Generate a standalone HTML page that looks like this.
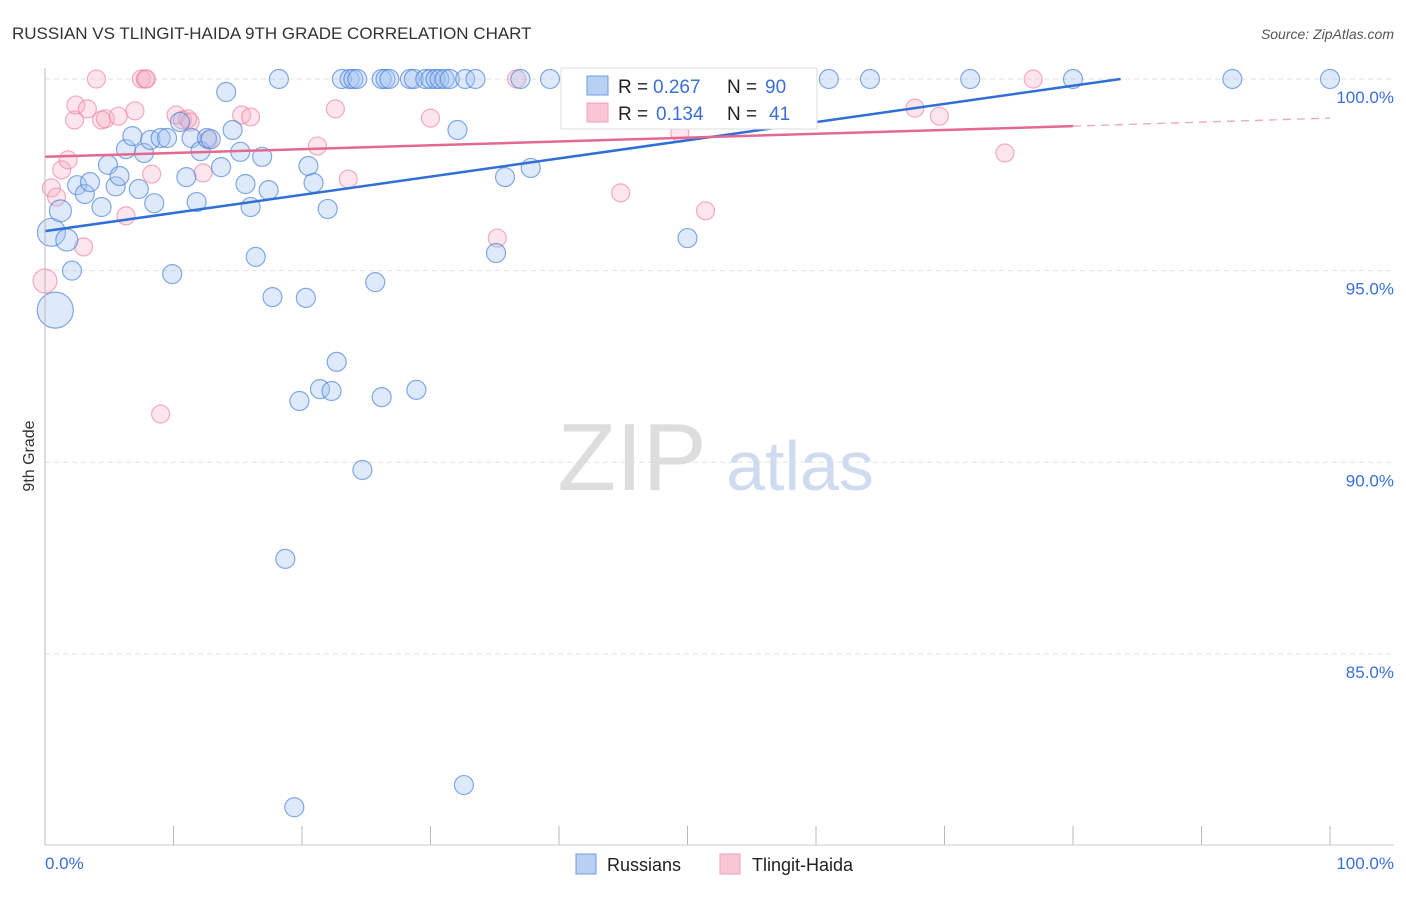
<!DOCTYPE html>
<html><head><meta charset="utf-8"><style>
body{margin:0;background:#fff;font-family:"Liberation Sans",sans-serif;}
svg text{font-family:"Liberation Sans",sans-serif;}
</style></head><body>
<svg width="1406" height="892">
<text x="12" y="39" font-size="17" fill="#333">RUSSIAN VS TLINGIT-HAIDA 9TH GRADE CORRELATION CHART</text>
<text x="1394" y="39" font-size="14" fill="#555" font-style="italic" text-anchor="end">Source: ZipAtlas.com</text>
<g id="grid"></g>
<g><text x="632" y="490" font-size="96" fill="#ddd" font-family="Liberation Serif" text-anchor="middle">ZIP</text><text x="800" y="490" font-size="70" fill="#cfdcf0" text-anchor="middle">atlas</text></g>
<g id="pts"></g>
<g id="lines"></g>
<line x1="45" y1="68" x2="45" y2="845" stroke="#bbb"/>
<text transform="translate(34,456) rotate(-90)" font-size="16" fill="#333" text-anchor="middle">9th Grade</text>
<text x="45" y="869" font-size="17" fill="#3a6fd8">0.0%</text>
<text x="1394" y="869" font-size="17" fill="#3a6fd8" text-anchor="end">100.0%</text>
<g>
<rect x="561" y="68" width="256" height="61" fill="#fff" stroke="#ddd"/>
<rect x="587" y="76" width="21" height="19" fill="#b8d0f2" stroke="#6f9be0"/>
<rect x="587" y="103" width="21" height="19" fill="#f9c6d4" stroke="#f0a0b8"/>
<text x="618" y="93" font-size="19" fill="#222">R =</text>
<text x="653" y="93" font-size="19" fill="#3a6fd8">0.267</text>
<text x="727" y="93" font-size="19" fill="#222">N =</text>
<text x="765" y="93" font-size="19" fill="#3a6fd8">90</text>
<text x="618" y="120" font-size="19" fill="#222">R =</text>
<text x="656" y="120" font-size="19" fill="#3a6fd8">0.134</text>
<text x="727" y="120" font-size="19" fill="#222">N =</text>
<text x="769" y="120" font-size="19" fill="#3a6fd8">41</text>
</g>
<g>
<rect x="576" y="854" width="20" height="20" fill="#b8d0f2" stroke="#6f9be0"/>
<text x="607" y="871" font-size="18" fill="#222">Russians</text>
<rect x="720" y="854" width="20" height="20" fill="#f9c6d4" stroke="#f0a0b8"/>
<text x="752" y="871" font-size="18" fill="#222">Tlingit-Haida</text>
</g>
</svg>
<script>
const yTicks=[100,95,90,85];
const yTickLabels=["100.0%","95.0%","90.0%","85.0%"];
const xTicks=[0,10,20,30,40,50,60,70,80,90,100];
const rusX=[0.8,0.5,1.2,1.7,2.1,2.5,3.1,3.5,4.4,4.9,5.5,5.8,6.3,6.8,7.3,7.7,8.2,8.5,9.0,9.5,9.9,10.5,11.0,11.4,11.8,12.1,12.6,12.9,13.7,14.1,14.6,15.2,15.6,16.0,16.4,16.9,17.4,17.7,18.7,19.4,19.8,20.3,20.5,20.9,21.4,22.0,22.3,22.7,24.7,25.7,26.2,28.9,32.1,32.6,35.1,35.8,37.8,50.0,18.2,23.1,23.7,24.0,24.3,26.2,26.5,26.8,28.4,28.7,29.6,30.0,30.4,30.7,31.1,31.5,32.7,33.5,37.0,39.3,43.9,47.1,50.7,52.4,59.3,61.0,64.2,72.0,80.0,92.4,100];
const rusY=[93.97,96.0,96.56,95.8,95.0,97.23,97.0,97.31,96.66,97.76,97.2,97.47,98.17,98.51,97.13,98.07,98.41,96.76,98.46,98.46,94.91,98.88,97.44,98.46,96.79,98.12,98.46,98.43,97.7,99.66,98.67,98.1,97.26,96.66,95.36,97.97,97.1,94.31,87.48,81.0,91.6,94.29,97.73,97.29,91.91,96.61,91.86,92.62,89.8,94.7,91.7,91.89,98.67,81.58,95.46,97.44,97.68,95.85,100,100,100,100,100,100,100,100,100,100,100,100,100,100,100,100,100,100,100,100,100,100,100,100,100,100,100,100,100,100,100];
const rusR=[18,14,11,11];
const tlX=[0,0.5,0.9,1.3,1.8,2.3,2.4,3.0,3.3,4.0,4.4,4.7,5.7,6.3,7.0,7.5,7.8,7.9,8.3,9.0,10.2,10.7,11.1,11.3,12.3,12.7,15.3,16.0,21.2,22.6,23.6,30.0,35.2,36.7,44.8,49.4,51.4,67.7,69.6,74.7,76.9];
const tlY=[94.73,97.16,96.92,97.63,97.89,98.93,99.32,95.62,99.22,100,98.93,98.96,99.03,96.43,99.17,100,100,100,97.52,91.26,99.06,98.93,98.96,98.88,97.55,98.41,99.06,99.01,98.25,99.22,97.39,98.98,95.85,100,97.03,98.59,96.56,99.24,99.03,98.07,100];
const rusLine=[[0,96.03],[83.7,100]];
const tlLine=[[0,97.97],[80,98.77],[100,98.98]];
const X=v=>45+v*12.85, Y=v=>79+(100-v)*38.33;
const ns="http://www.w3.org/2000/svg";
function mk(t,a,p){const e=document.createElementNS(ns,t);for(const k in a)e.setAttribute(k,a[k]);p.appendChild(e);return e;}
const g=document.getElementById('grid');
yTicks.forEach((t,i)=>{
 const l=mk('line',{x1:45,x2:1394,y1:Y(t),y2:Y(t),stroke:'#e2e2e2','stroke-dasharray':'5,4'},g);
 
 
 const tx=mk('text',{x:1394,y:Y(t)+24,'font-size':17,fill:'#3a6fd8','text-anchor':'end'},g);tx.textContent=yTickLabels[i];
 
 
});
mk('line',{x1:45,x2:1394,y1:845,y2:845,stroke:'#ccc'},g);
xTicks.forEach(t=>{const l=mk('line',{x1:X(t),x2:X(t),y1:826,y2:845,stroke:'#bbb'},g);
 
 });
const p=document.getElementById('pts');
tlX.forEach((x,i)=>{const c=mk('circle',{cx:X(x),cy:Y(tlY[i]),r:i==0?12:9,fill:'rgba(246,170,192,0.3)',stroke:'rgba(236,130,160,0.65)','stroke-width':1.2},p);
 
 });
rusX.forEach((x,i)=>{const c=mk('circle',{cx:X(x),cy:Y(rusY[i]),r:rusR[i]||9.5,fill:'rgba(160,195,240,0.35)',stroke:'rgba(70,125,215,0.65)','stroke-width':1.2},p);
 
 });
const L=document.getElementById('lines');
let a=mk('line',{x1:X(rusLine[0][0]),y1:Y(rusLine[0][1]),x2:X(rusLine[1][0]),y2:Y(rusLine[1][1]),stroke:'#2f6fd6','stroke-width':2.5},L);


let b=mk('line',{x1:X(tlLine[0][0]),y1:Y(tlLine[0][1]),x2:X(tlLine[1][0]),y2:Y(tlLine[1][1]),stroke:'#e5688f','stroke-width':2.5},L);


let c=mk('line',{x1:X(tlLine[1][0]),y1:Y(tlLine[1][1]),x2:X(tlLine[2][0]),y2:Y(tlLine[2][1]),stroke:'#e5688f','stroke-width':1.3,'stroke-dasharray':'8,6',opacity:0.6},L);


</script>
</body></html>
